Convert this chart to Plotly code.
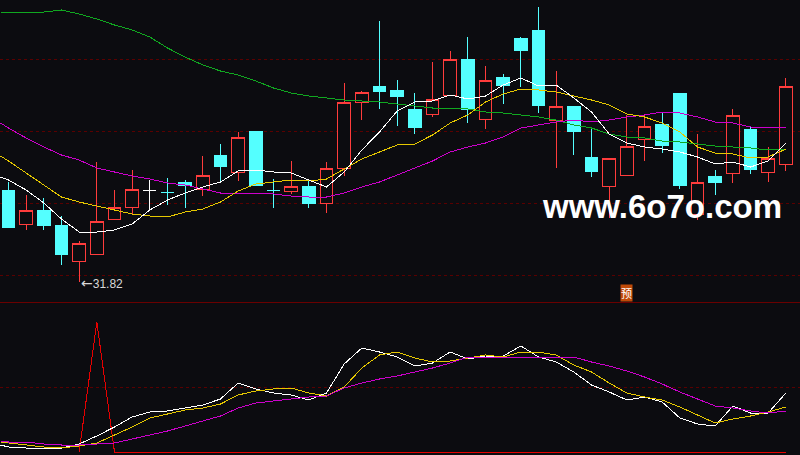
import plotly.graph_objects as go

BG = "#0c0c10"
days = list(range(45))
line_days = [-0.45] + days

open_px = [41.0,37.6,39.0,37.5,33.9,34.6,38.1,39.3,41.0,40.8,41.8,41.1,44.5,42.8,46.9,41.0,40.9,41.4,39.7,43.2,49.8,51.4,51.0,49.1,48.6,50.5,54.1,48.1,52.3,56.2,57.0,48.0,49.4,44.3,41.4,42.5,46.1,47.6,50.7,38.6,42.4,42.7,47.1,42.8,43.6]
close_px = [37.3,39.0,37.5,34.6,35.7,37.9,39.3,41.1,41.0,40.8,41.5,42.5,43.4,46.3,41.5,41.0,41.4,39.7,43.2,49.8,50.8,50.9,50.4,47.3,50.1,54.1,49.1,52.0,51.5,55.0,49.5,49.4,46.9,42.9,44.2,45.4,47.4,45.5,41.5,41.8,41.8,48.5,43.1,44.2,51.4]
high_px = [41.8,40.5,40.2,38.4,35.9,43.8,41.0,43.0,42.0,42.2,42.0,44.4,45.6,46.8,46.9,42.1,43.9,42.0,43.8,51.7,50.9,57.9,52.0,50.7,53.8,54.9,56.3,53.4,52.6,56.3,59.3,52.9,49.4,47.1,44.2,48.5,48.6,48.7,50.7,46.6,43.0,49.1,47.3,45.3,52.2]
low_px = [37.3,37.0,37.0,33.5,31.82,34.6,38.1,38.6,38.9,39.5,39.2,40.4,41.8,41.9,41.5,39.2,40.6,39.2,38.7,42.4,48.0,49.1,47.4,46.6,48.3,50.5,47.7,47.1,49.6,51.3,48.7,43.2,44.5,42.3,38.2,42.5,43.9,44.7,41.1,38.0,40.5,41.7,42.6,41.8,42.9]

ma5 = [42.3,42.0,41.0,39.7,38.1,36.8,36.8,37.0,37.6,39.0,40.0,40.7,41.3,41.8,42.9,43.0,42.8,42.7,42.0,41.3,42.8,45.0,46.8,48.9,49.8,49.9,50.5,50.1,50.4,51.5,52.2,51.4,51.5,50.2,48.8,46.6,45.7,45.3,45.1,44.8,44.3,43.6,43.8,43.3,43.9,45.7]
ma10 = [44.4,43.9,42.7,41.5,40.3,39.8,39.4,39.0,38.6,38.4,38.3,38.8,39.1,39.8,40.9,41.6,41.8,42.0,41.9,42.1,43.1,44.1,44.8,45.5,45.6,46.5,47.7,48.5,49.8,50.6,51.1,51.0,50.8,50.4,50.0,49.5,48.6,48.3,47.7,46.8,45.3,44.7,44.6,44.2,44.3,45.1]
ma20 = [47.7,47.2,46.2,45.3,44.5,44.0,43.2,42.8,42.4,42.1,41.7,41.5,41.1,40.7,40.7,40.7,40.6,40.4,40.3,40.3,40.7,41.3,41.8,42.5,43.2,43.9,44.8,45.3,45.7,46.3,47.2,47.5,47.8,48.0,47.8,48.0,48.3,48.5,48.8,48.7,48.3,47.8,47.7,47.3,47.2,47.3]
ma60 = [58.8,58.8,58.8,58.8,59.0,58.6,58.1,57.5,57.0,56.3,55.2,54.3,53.5,52.9,52.5,51.9,51.2,50.7,50.4,50.2,50.0,49.9,49.8,49.6,49.4,49.2,49.2,49.1,48.8,48.7,48.5,48.3,48.0,47.5,47.2,46.6,46.3,46.2,45.9,45.8,45.6,45.4,45.3,45.2,45.0,45.1]

osc_white = [3.5,2.5,2,2,2,4,8,12.5,17.5,20,20.5,22,23.5,26.5,34.5,31.5,29.5,28.5,26,29.5,44,52,50,47.5,43,44.5,50,46.5,48,48,53,47.5,45,40,33.5,30,26,27.5,25,17,14,13,23,19.5,19.5,29.5]
osc_yellow = [5,4.5,3.5,2.5,2,3,4.5,8.5,12.5,17,19,21,22,24,28.5,30.5,31.5,32,29.5,28,32.5,42,48.5,50,47,45,45.5,47,48.5,47.5,50,50,48.5,43.5,40,34.5,29.5,27.5,26,22.5,18.5,14.5,16.5,18,20,22.5]
osc_magenta = [5.5,5,5,4,3.5,3.5,4,4.5,6.5,8.5,10.5,13,15.5,18,22,24.5,25.5,26.5,27.5,28,32,34.5,36.5,38,40,42,44.5,47.5,47.5,47.5,47.5,47.5,47.5,47.5,45,43,40.5,37.5,34,30,26.5,23,22,20.5,19.5,20.5]
osc_red = [None,None,None,None,0,65] + [0] * 39

low_arrow = "←"
low_value = "31.82"
site_label = "www.6o7o.com"
badge_label = "预"

fig = go.Figure()

def candles(idx, color, fill):
    style = dict(line=dict(color=color, width=1), fillcolor=fill)
    fig.add_trace(go.Candlestick(
        x=[days[i] for i in idx],
        open=[open_px[i] for i in idx], high=[high_px[i] for i in idx],
        low=[low_px[i] for i in idx], close=[close_px[i] for i in idx],
        increasing=style, decreasing=style, whiskerwidth=0, showlegend=False,
        xaxis="x", yaxis="y"))

up_idx = [i for i in days if close_px[i] > open_px[i]]
down_idx = [i for i in days if close_px[i] < open_px[i]]
flat_cyan = [i for i in days if close_px[i] == open_px[i] and i != 8]
candles(up_idx, "#ff3c3c", BG)
candles(down_idx + flat_cyan, "#54ffff", "#54ffff")
candles([8], "#ffffff", "#ffffff")

for vals, col in [(ma60, "#10a820"), (ma20, "#cc00cc"), (ma10, "#e6c800"), (ma5, "#ffffff")]:
    fig.add_trace(go.Scatter(x=line_days, y=vals, mode="lines", showlegend=False,
                             line=dict(color=col, width=1), xaxis="x", yaxis="y"))

fig.add_trace(go.Scatter(x=days, y=osc_red, mode="lines", showlegend=False,
                         line=dict(color="#e60000", width=1), xaxis="x2", yaxis="y2"))
for vals, col in [(osc_white, "#ffffff"), (osc_yellow, "#e6c800"), (osc_magenta, "#cc00cc")]:
    fig.add_trace(go.Scatter(x=line_days, y=vals, mode="lines", showlegend=False,
                             line=dict(color=col, width=1), xaxis="x2", yaxis="y2"))

xrange = [-0.48, 44.80]
grid = dict(showgrid=True, gridcolor="#5a0000", griddash="dot", gridwidth=1,
            showticklabels=False, ticks="", zeroline=False, fixedrange=True)
fig.update_layout(
    width=800, height=455, margin=dict(l=0, r=0, t=0, b=0),
    paper_bgcolor=BG, plot_bgcolor=BG, showlegend=False,
    boxgap=0.27, boxgroupgap=0,
    xaxis=dict(domain=[0, 1], range=xrange, anchor="y", showgrid=False, zeroline=False,
               showticklabels=False, ticks="", showline=True, linecolor="#6a0000", linewidth=1,
               rangeslider=dict(visible=False)),
    xaxis2=dict(domain=[0, 1], range=xrange, anchor="y2", showgrid=False, zeroline=False,
                showticklabels=False, ticks="", showline=True, linecolor="#6a0000", linewidth=1,
                rangeslider=dict(visible=False)),
    yaxis=dict(domain=[153 / 455, 1], range=[29.8, 60], tickvals=[54.05, 46.9, 39.7, 32.5], **grid),
    yaxis2=dict(domain=[0, 152 / 455], range=[-1.5, 74.5], tickvals=[32.5], **grid),
    annotations=[
        dict(x=4, y=31.75, xref="x", yref="y",
             text='<span style="font-family:DejaVu Sans;font-size:14px">' + low_arrow + "</span>" + low_value,
             showarrow=False, xanchor="left", yanchor="middle",
             font=dict(family="Liberation Sans", size=12, color="#d8d8d8")),
        dict(x=0.8275, y=39.4, xref="paper", yref="y", text=site_label, showarrow=False,
             xanchor="center", yanchor="middle",
             font=dict(family="Liberation Sans", size=33, color="#ffffff", weight="bold")),
        dict(x=0.7825, y=30.7, xref="paper", yref="y", text=badge_label, showarrow=False,
             xanchor="center", yanchor="middle", bgcolor="#c04a08", borderpad=0,
             font=dict(family="Noto Sans CJK SC", size=11, color="#ffffff")),
    ],
)

fig.write_html("out.html", config={"displayModeBar": False}, post_script=(
    "document.body.style.margin='0';document.body.style.overflow='hidden';"
    "document.body.style.background='" + BG + "';"
    "document.querySelectorAll('.boxlayer path,.scatterlayer path').forEach(function(p){"
    "p.style.shapeRendering='crispEdges';});"))
